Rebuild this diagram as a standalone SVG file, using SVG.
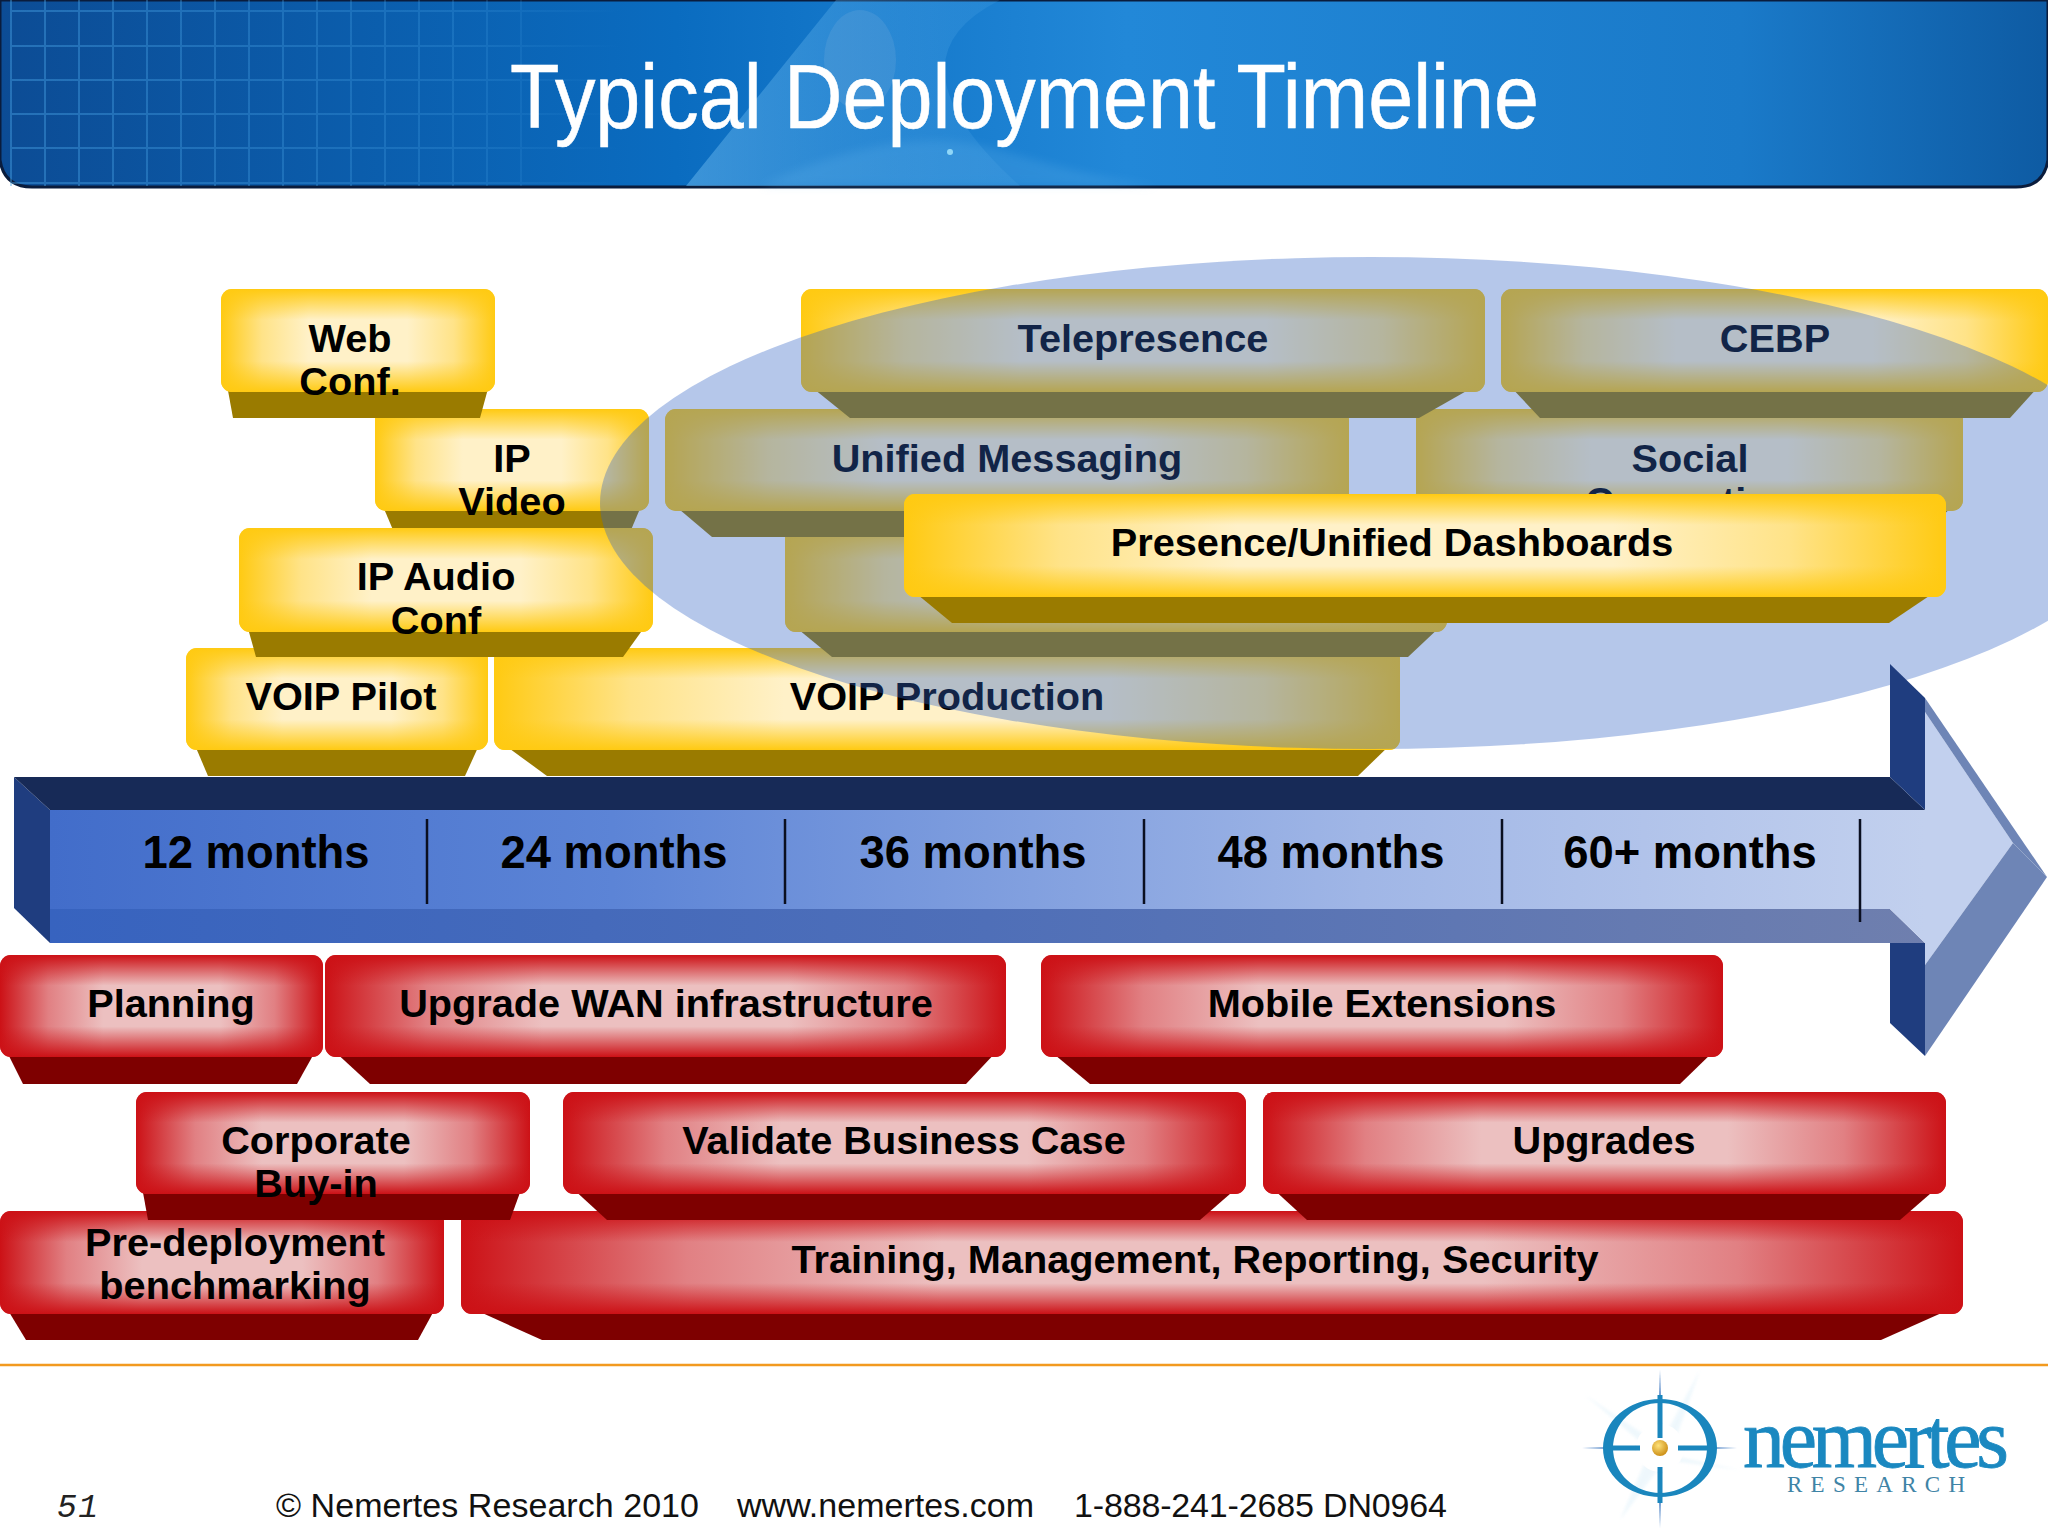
<svg xmlns="http://www.w3.org/2000/svg" width="2048" height="1536" viewBox="0 0 2048 1536">
<style>
text{font-family:"Liberation Sans",Arial,sans-serif}
.lb{font-size:39.7px;font-weight:700;fill:#000;text-anchor:middle}
.mo{font-size:45.4px;font-weight:700;fill:#000;text-anchor:middle}
.ft{font-size:34px;fill:#111}
.yb{fill:#9a7b00}.rb{fill:#7e0000}
.yh{fill:url(#yh)}.yv{fill:url(#yv)}.rh{fill:url(#rh)}.rv{fill:url(#rv)}
.dv{stroke:#0a0f20;stroke-width:2.5}
</style>
<defs>
<linearGradient id="yh"><stop offset="0" stop-color="#ffca12"/><stop offset=".15" stop-color="#ffe388"/><stop offset=".32" stop-color="#fff1c8"/><stop offset=".68" stop-color="#fff1c8"/><stop offset=".85" stop-color="#ffe388"/><stop offset="1" stop-color="#ffca12"/></linearGradient>
<linearGradient id="yv" x2="0" y2="1"><stop offset="0" stop-color="#ffca12"/><stop offset=".3" stop-color="#ffca12" stop-opacity="0"/><stop offset=".7" stop-color="#ffca12" stop-opacity="0"/><stop offset="1" stop-color="#ffca12"/></linearGradient>
<linearGradient id="rh"><stop offset="0" stop-color="#cc1116"/><stop offset=".15" stop-color="#e18083"/><stop offset=".32" stop-color="#ecc0c0"/><stop offset=".68" stop-color="#ecc0c0"/><stop offset=".85" stop-color="#e18083"/><stop offset="1" stop-color="#cc1116"/></linearGradient>
<linearGradient id="rv" x2="0" y2="1"><stop offset="0" stop-color="#cc1116"/><stop offset=".3" stop-color="#cc1116" stop-opacity="0"/><stop offset=".7" stop-color="#cc1116" stop-opacity="0"/><stop offset="1" stop-color="#cc1116"/></linearGradient>
<linearGradient id="hdr" x1="0" x2="2048" y1="0" y2="0" gradientUnits="userSpaceOnUse"><stop offset="0" stop-color="#0c4c95"/><stop offset=".33" stop-color="#0a6cc0"/><stop offset=".55" stop-color="#2288d8"/><stop offset=".85" stop-color="#1a7ac9"/><stop offset="1" stop-color="#0e5ba3"/></linearGradient>
<linearGradient id="sw" x1="680" x2="1150" y1="0" y2="0" gradientUnits="userSpaceOnUse"><stop offset="0" stop-color="#6fbcf0" stop-opacity=".5"/><stop offset=".45" stop-color="#5aaeea" stop-opacity=".28"/><stop offset="1" stop-color="#5aaeea" stop-opacity="0"/></linearGradient>
<linearGradient id="grid" x1="0" x2="620" y1="0" y2="0" gradientUnits="userSpaceOnUse"><stop offset="0" stop-color="#4aa6e8" stop-opacity=".42"/><stop offset=".75" stop-color="#4aa6e8" stop-opacity=".22"/><stop offset="1" stop-color="#4aa6e8" stop-opacity="0"/></linearGradient>
<linearGradient id="af" x1="50" x2="1925" y1="0" y2="0" gradientUnits="userSpaceOnUse"><stop offset="0" stop-color="#426dca"/><stop offset=".3" stop-color="#5c84d6"/><stop offset=".7" stop-color="#a0b6e6"/><stop offset="1" stop-color="#c2d0ee"/></linearGradient>
<linearGradient id="ab" x1="50" x2="1925" y1="0" y2="0" gradientUnits="userSpaceOnUse"><stop offset="0" stop-color="#3763bf"/><stop offset=".5" stop-color="#4f6fb8"/><stop offset="1" stop-color="#6f7fae"/></linearGradient>
<radialGradient id="dot" cx=".4" cy=".35" r=".7"><stop offset="0" stop-color="#ffe27a"/><stop offset="1" stop-color="#c98a10"/></radialGradient>
<filter id="soft" x="-20%" y="-20%" width="140%" height="140%"><feGaussianBlur stdDeviation="1.5"/></filter>
<filter id="soft2" x="-20%" y="-20%" width="140%" height="140%"><feGaussianBlur stdDeviation="5"/></filter>
</defs>

<rect width="2048" height="1536" fill="#fff"/>

<g id="header">
<path d="M0 0H2048V160Q2044 187 2016 187H32Q4 187 0 160Z" fill="url(#hdr)" stroke="#0a1c3c" stroke-width="3"/>
<path d="M11 0V186M45 0V186M79 0V186M113 0V186M147 0V186M181 0V186M215 0V186M249 0V186M283 0V186M317 0V186M351 0V186M385 0V186M419 0V186M453 0V186M487 0V186M521 0V186M11 11H620M11 46H620M11 80H620M11 114H620M11 148H620M11 183H620" fill="none" stroke="url(#grid)" stroke-width="2"/>
<path d="M686 186L836 0H1000Q880 60 1020 186Z" fill="url(#sw)"/>
<path d="M760 186Q900 120 1000 150T1160 186Z" fill="#6fbcf0" opacity=".2" filter="url(#soft2)"/>
<ellipse cx="860" cy="60" rx="36" ry="50" fill="#8fb8dc" opacity=".18"/>
<circle cx="950" cy="152" r="3" fill="#a8e8ff" opacity=".8"/>
<text x="510" y="128" font-size="91" fill="#fff" stroke="#fff" stroke-width=".6" textLength="1029" lengthAdjust="spacingAndGlyphs">Typical Deployment Timeline</text>
</g>

<g id="voip-pilot">
<polygon class="yb" points="194,743 208,776 465,776 480,743"/>
<rect class="yh" x="186" y="648" width="302" height="102" rx="11"/><rect class="yv" x="186" y="648" width="302" height="102" rx="11"/>
<text class="lb" x="341" y="710">VOIP Pilot</text></g>
<g id="voip-production">
<polygon class="yb" points="502,743 547,776 1358,776 1392,743"/>
<rect class="yh" x="494" y="648" width="906" height="102" rx="11"/><rect class="yv" x="494" y="648" width="906" height="102" rx="11"/>
<text class="lb" x="947" y="710">VOIP Production</text></g>
<g id="hidden-box">
<polygon class="yb" points="793,625 832,657 1408,657 1442,625"/>
<rect class="yh" x="785" y="528" width="662" height="104" rx="11"/><rect class="yv" x="785" y="528" width="662" height="104" rx="11"/></g>
<g id="ip-video">
<polygon class="yb" points="382,504 396,537 628,537 642,504"/>
<rect class="yh" x="375" y="409" width="274" height="102" rx="11"/><rect class="yv" x="375" y="409" width="274" height="102" rx="11"/>
<text class="lb" x="512" y="472">IP</text><text class="lb" x="512" y="515">Video</text></g>
<g id="unified-messaging">
<polygon class="yb" points="673,504 712,537 1300,537 1341,504"/>
<rect class="yh" x="665" y="409" width="684" height="102" rx="11"/><rect class="yv" x="665" y="409" width="684" height="102" rx="11"/>
<text class="lb" x="1007" y="472">Unified Messaging</text></g>
<g id="social-computing">
<polygon class="yb" points="1424,504 1460,537 1920,537 1955,504"/>
<rect class="yh" x="1416" y="409" width="547" height="102" rx="11"/><rect class="yv" x="1416" y="409" width="547" height="102" rx="11"/>
<text class="lb" x="1690" y="472">Social</text><text class="lb" x="1690" y="515">Computing</text></g>
<g id="ip-audio-conf">
<polygon class="yb" points="247,625 256,657 623,657 646,625"/>
<rect class="yh" x="239" y="528" width="414" height="104" rx="11"/><rect class="yv" x="239" y="528" width="414" height="104" rx="11"/>
<text class="lb" x="436" y="590">IP Audio</text><text class="lb" x="436" y="634">Conf</text></g>
<g id="web-conf">
<polygon class="yb" points="227,385 233,418 480,418 489,385"/>
<rect class="yh" x="221" y="289" width="274" height="103" rx="11"/><rect class="yv" x="221" y="289" width="274" height="103" rx="11"/>
<text class="lb" x="350" y="352">Web</text><text class="lb" x="350" y="395">Conf.</text></g>
<g id="telepresence">
<polygon class="yb" points="809,385 850,418 1419,418 1477,385"/>
<rect class="yh" x="801" y="289" width="684" height="103" rx="11"/><rect class="yv" x="801" y="289" width="684" height="103" rx="11"/>
<text class="lb" x="1143" y="352">Telepresence</text></g>
<g id="cebp">
<polygon class="yb" points="1509,385 1540,418 2010,418 2040,385"/>
<rect class="yh" x="1501" y="289" width="547" height="103" rx="11"/><rect class="yv" x="1501" y="289" width="547" height="103" rx="11"/>
<text class="lb" x="1775" y="352">CEBP</text></g>

<ellipse id="scope-ellipse" cx="1371" cy="503" rx="771" ry="246" fill="#3364c5" fill-opacity=".36"/>

<g id="presence-dashboards">
<polygon class="yb" points="912,590 952,623 1889,623 1938,590"/>
<rect class="yh" x="904" y="494" width="1042" height="103" rx="11"/><rect class="yv" x="904" y="494" width="1042" height="103" rx="11"/>
<text class="lb" x="1392" y="556">Presence/Unified Dashboards</text></g>

<g id="timeline-arrow">
<polygon points="14,777 50,810 50,943 14,908" fill="#1f3d7f"/>
<polygon points="14,777 1890,777 1925,810 50,810" fill="#172a57"/>
<polygon points="1890,664 1925,698 1925,810 1890,777" fill="#1f3d7f"/>
<polygon points="1890,943 1925,943 1925,1056 1890,1023" fill="#1f3d7f"/>
<polygon points="50,909 1890,909 1925,943 50,943" fill="url(#ab)"/>
<polygon points="50,810 1925,810 1925,712 2013,843 1925,965 1925,943 1890,909 50,909" fill="url(#af)"/>
<polygon points="1925,698 2047,877 2013,843 1925,712" fill="#6e85b6"/>
<polygon points="2013,843 2047,877 1925,1056 1925,965" fill="#6e85b6"/>
<line class="dv" x1="427" y1="819" x2="427" y2="904"/>
<line class="dv" x1="785" y1="819" x2="785" y2="904"/>
<line class="dv" x1="1144" y1="819" x2="1144" y2="904"/>
<line class="dv" x1="1502" y1="819" x2="1502" y2="904"/>
<line class="dv" x1="1860" y1="819" x2="1860" y2="922"/>
<text class="mo" x="256" y="868">12 months</text>
<text class="mo" x="614" y="868">24 months</text>
<text class="mo" x="973" y="868">36 months</text>
<text class="mo" x="1331" y="868">48 months</text>
<text class="mo" x="1690" y="868">60+ months</text>
</g>

<g id="planning">
<polygon class="rb" points="6,1050 23,1084 297,1084 316,1050"/>
<rect class="rh" x="0" y="955" width="323" height="102" rx="11"/><rect class="rv" x="0" y="955" width="323" height="102" rx="11"/>
<text class="lb" x="171" y="1017">Planning</text></g>
<g id="upgrade-wan">
<polygon class="rb" points="333,1050 370,1084 966,1084 998,1050"/>
<rect class="rh" x="325" y="955" width="681" height="102" rx="11"/><rect class="rv" x="325" y="955" width="681" height="102" rx="11"/>
<text class="lb" x="666" y="1017">Upgrade WAN infrastructure</text></g>
<g id="mobile-extensions">
<polygon class="rb" points="1049,1050 1090,1084 1680,1084 1715,1050"/>
<rect class="rh" x="1041" y="955" width="682" height="102" rx="11"/><rect class="rv" x="1041" y="955" width="682" height="102" rx="11"/>
<text class="lb" x="1382" y="1017">Mobile Extensions</text></g>
<g id="pre-deployment">
<polygon class="rb" points="6,1307 26,1340 418,1340 436,1307"/>
<rect class="rh" x="0" y="1211" width="444" height="103" rx="11"/><rect class="rv" x="0" y="1211" width="444" height="103" rx="11"/>
<text class="lb" x="235" y="1256">Pre-deployment</text><text class="lb" x="235" y="1299">benchmarking</text></g>
<g id="training">
<polygon class="rb" points="469,1307 542,1340 1881,1340 1955,1307"/>
<rect class="rh" x="461" y="1211" width="1502" height="103" rx="11"/><rect class="rv" x="461" y="1211" width="1502" height="103" rx="11"/>
<text class="lb" x="1195" y="1273">Training, Management, Reporting, Security</text></g>
<g id="corporate-buy-in">
<polygon class="rb" points="142,1187 148,1220 510,1220 522,1187"/>
<rect class="rh" x="136" y="1092" width="394" height="102" rx="11"/><rect class="rv" x="136" y="1092" width="394" height="102" rx="11"/>
<text class="lb" x="316" y="1154">Corporate</text><text class="lb" x="316" y="1197">Buy-in</text></g>
<g id="validate-business-case">
<polygon class="rb" points="571,1187 607,1220 1200,1220 1238,1187"/>
<rect class="rh" x="563" y="1092" width="683" height="102" rx="11"/><rect class="rv" x="563" y="1092" width="683" height="102" rx="11"/>
<text class="lb" x="904" y="1154">Validate Business Case</text></g>
<g id="upgrades">
<polygon class="rb" points="1271,1187 1307,1220 1900,1220 1938,1187"/>
<rect class="rh" x="1263" y="1092" width="683" height="102" rx="11"/><rect class="rv" x="1263" y="1092" width="683" height="102" rx="11"/>
<text class="lb" x="1604" y="1154">Upgrades</text></g>

<g id="footer">
<line x1="0" y1="1365" x2="2048" y2="1365" stroke="#f29a1f" stroke-width="2.5"/>
<text x="57" y="1517" font-size="33" fill="#222" font-style="italic" textLength="41" style="font-family:'Liberation Mono',monospace">51</text>
<text class="ft" x="276" y="1517" textLength="423">© Nemertes Research 2010</text>
<text class="ft" x="737" y="1517" textLength="297">www.nemertes.com</text>
<text class="ft" x="1074" y="1517" textLength="373">1-888-241-2685 DN0964</text>
</g>

<g id="logo">
<g fill="#dff1fa" opacity=".5" filter="url(#soft)"><polygon points="1585,1395 1660,1445 1700,1370 1670,1455 1740,1470 1665,1460 1620,1520 1650,1450"/></g>
<polygon points="1660,1370 1663,1448 1660,1528 1657,1448" fill="#6a97cf"/>
<polygon points="1582,1448 1660,1445 1737,1448 1660,1451" fill="#6a97cf"/>
<circle cx="1660" cy="1448" r="24" fill="#fff"/>
<path fill-rule="evenodd" fill="#1a86bd" d="M1603 1448a57 49 0 1 0 114 0a57 49 0 1 0 -114 0ZM1613 1448a47 45 0 1 1 94 0a47 45 0 1 1 -94 0Z"/>
<path d="M1660 1395V1438M1660 1467V1503M1610 1448H1640M1678 1448H1712" stroke="#1a86bd" stroke-width="5" fill="none"/>
<circle cx="1660" cy="1448" r="8" fill="url(#dot)"/>
<text x="1743" y="1467" font-size="84" fill="#1a88c0" stroke="#1a88c0" stroke-width=".8" textLength="266" lengthAdjust="spacing" style="font-family:'Liberation Serif',serif">nemertes</text>
<text x="1787" y="1492" font-size="23" fill="#3f84a6" textLength="178" style="font-family:'Liberation Serif',serif">RESEARCH</text>
</g>
</svg>
